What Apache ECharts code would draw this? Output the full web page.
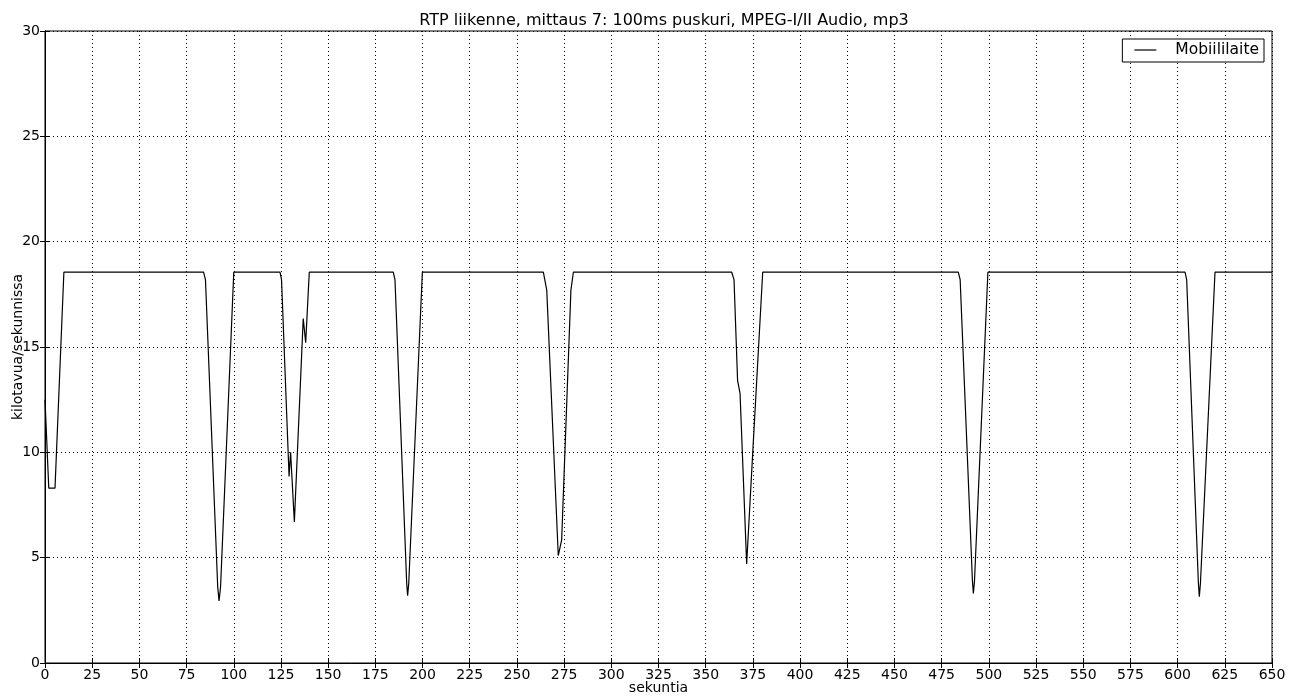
<!DOCTYPE html>
<html>
<head>
<meta charset="utf-8">
<title>RTP liikenne, mittaus 7</title>
<script src="https://cdn.jsdelivr.net/npm/echarts@6/dist/echarts.min.js"></script>
<style>
  html, body { margin: 0; padding: 0; background: #fff; }
  #chart { width: 1296px; height: 696px; }
</style>
</head>
<body>
<div id="chart"></div>
<script>
// seconds / kilobytes per second
var seconds = [
    0, 2, 5.3, 10,
    84, 85, 91.5, 92.2, 93, 100,
    124.5, 125.3, 129.3, 130.1, 132.1, 136.8, 138.1, 140,
    184.5, 185.4, 191.6, 192.1, 192.7, 199.9,
    264, 265.8, 271.9, 273.7, 278.6, 279.9,
    363.8, 365, 366.9, 368.2, 371.7, 374.9, 380.2,
    483.8, 484.8, 491.3, 491.8, 492.4, 499.5,
    603.9, 604.8, 611, 611.5, 612.1, 619.8,
    650
];
var kbps = [
    12.5, 8.3, 8.3, 18.55,
    18.55, 18.2, 3.6, 2.95, 3.6, 18.55,
    18.55, 18.2, 8.85, 10.0, 6.7, 16.35, 15.2, 18.55,
    18.55, 18.2, 3.8, 3.2, 3.8, 18.55,
    18.55, 17.7, 5.1, 5.85, 17.7, 18.55,
    18.55, 18.2, 13.4, 12.8, 4.7, 9.95, 18.55,
    18.55, 18.2, 3.9, 3.3, 3.9, 18.55,
    18.55, 18.2, 3.8, 3.15, 3.8, 18.55,
    18.55
];
var xTicks = { min: 0, max: 650, interval: 25 };
var yTicks = { min: 0, max: 30, interval: 5 };

var seriesData = [];
for (var i = 0; i < seconds.length; i++) {
    seriesData.push([seconds[i], kbps[i]]);
}

var font = 'DejaVu Sans';
var dotted = { color: '#000', width: 1, type: [1, 3] };

var chart = echarts.init(document.getElementById('chart'));
var option = {
    animation: false,
    backgroundColor: '#fff',
    title: {
        text: 'RTP liikenne, mittaus 7: 100ms puskuri, MPEG-I/II Audio, mp3',
        left: 659,
        textAlign: 'center',
        top: 8,
        textStyle: { fontFamily: font, fontSize: 16, fontWeight: 'normal', color: '#000' }
    },
    legend: {
        data: [{ name: 'Mobiililaite', icon: 'rect' }],
        right: 32,
        top: 39,
        itemWidth: 22,
        itemHeight: 1.2,
        padding: [3, 5, 4, 12],
        borderColor: '#000',
        borderWidth: 1,
        borderRadius: 0,
        backgroundColor: '#fff',
        textStyle: { fontFamily: font, fontSize: 15.5, color: '#000', padding: [0, 0, 0, 14] }
    },
    grid: {
        left: 45,
        right: 24,
        top: 31,
        bottom: 33,
        outerBoundsMode: 'none',
        containLabel: false,
        show: true,
        borderColor: '#000',
        borderWidth: 1
    },
    xAxis: [{
        type: 'value',
        min: xTicks.min, max: xTicks.max, interval: xTicks.interval,
        name: 'sekuntia',
        nameLocation: 'middle',
        nameGap: 18,
        nameMoveOverlap: false,
        nameTextStyle: { fontFamily: font, fontSize: 14, color: '#000' },
        axisLine: { lineStyle: { color: '#000' } },
        axisTick: { inside: true, length: 5, lineStyle: { color: '#000' } },
        axisLabel: { fontFamily: font, fontSize: 14, color: '#000', margin: 5 },
        splitLine: { show: true, lineStyle: dotted }
    }, {
        type: 'value',
        position: 'top',
        min: xTicks.min, max: xTicks.max, interval: xTicks.interval,
        axisLine: { lineStyle: { color: '#000' } },
        axisTick: { inside: true, length: 5, lineStyle: { color: '#000' } },
        axisLabel: { show: false },
        splitLine: { show: false }
    }],
    yAxis: [{
        type: 'value',
        min: yTicks.min, max: yTicks.max, interval: yTicks.interval,
        name: 'kilotavua/sekunnissa',
        nameLocation: 'middle',
        nameRotate: 90,
        nameGap: 20,
        nameMoveOverlap: false,
        nameTextStyle: { fontFamily: font, fontSize: 14, color: '#000' },
        axisLine: { show: true, lineStyle: { color: '#000' } },
        axisTick: { show: true, inside: true, length: 5, lineStyle: { color: '#000' } },
        axisLabel: { fontFamily: font, fontSize: 14, color: '#000', margin: 5 },
        splitLine: { show: true, lineStyle: dotted }
    }, {
        type: 'value',
        position: 'right',
        min: yTicks.min, max: yTicks.max, interval: yTicks.interval,
        axisLine: { show: true, lineStyle: { color: '#000' } },
        axisTick: { show: true, inside: true, length: 5, lineStyle: { color: '#000' } },
        axisLabel: { show: false },
        splitLine: { show: false }
    }],
    series: [{
        name: 'Mobiililaite',
        type: 'line',
        xAxisIndex: 0,
        yAxisIndex: 0,
        symbol: 'none',
        color: '#000',
        lineStyle: { color: '#000', width: 1.2 },
        data: seriesData
    }]
};
chart.setOption(option);
</script>
</body>
</html>
